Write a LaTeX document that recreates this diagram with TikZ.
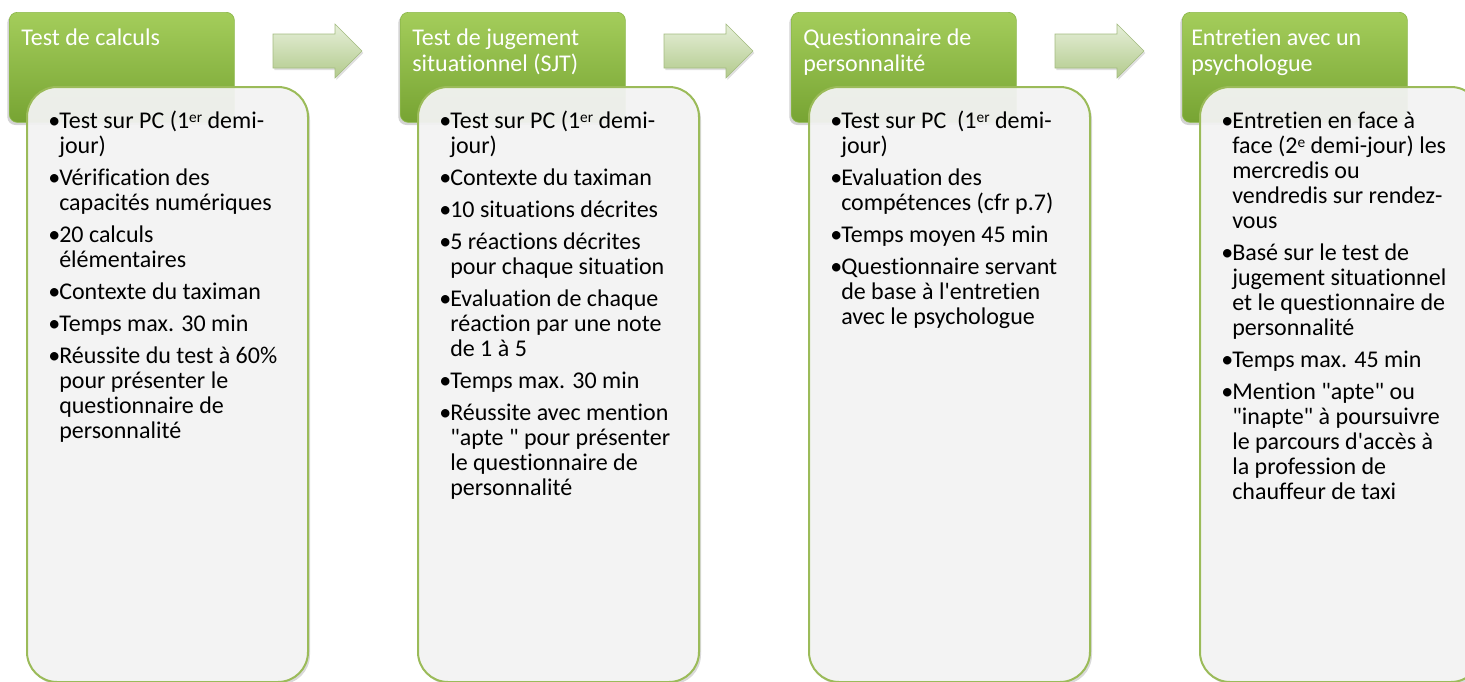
\documentclass[tikz,border=0pt]{standalone}
\usepackage{fontspec}
\setmainfont{Carlito}[Ligatures=NoCommon]
\usetikzlibrary{shadows}

\definecolor{vertclair}{HTML}{A4CD5B}
\definecolor{vertfonce}{HTML}{77A433}
\definecolor{vertbord}{HTML}{8CB84A}
\definecolor{vertligne}{HTML}{9BBB59}
\definecolor{gris}{HTML}{F5F5F5}
\definecolor{flecheclair}{HTML}{E6EFD9}
\definecolor{flechefonce}{HTML}{B2CA8C}
\definecolor{flechebord}{HTML}{A3BB80}

\newcommand{\titrefont}{\fontsize{18}{20}\selectfont}
\newcommand{\listefont}{\fontsize{18}{18.75}\selectfont}
\newcommand{\puce}{\makebox[8.25pt][l]{\textbullet}}
\newcommand{\expo}[1]{\raisebox{0.55ex}{\fontsize{11.5}{11.5}\selectfont #1}}
\newcommand{\dq}{\textquotedbl}
\newcommand{\sautpuce}{5.25pt}

\tikzset{
  entete/.style={anchor=north west, rounded corners=6pt,
    minimum width=168.75pt, minimum height=82.5pt,
    top color=vertclair, bottom color=vertfonce, draw=vertbord, line width=0.5pt,
    drop shadow={shadow xshift=-1.5pt, shadow yshift=-2pt, opacity=0.35}},
  corps/.style={anchor=north west, rounded corners=22.5pt,
    minimum width=210.75pt, minimum height=446.25pt,
    fill=gris, fill opacity=0.93, draw=vertligne, line width=1.5pt,
    drop shadow={shadow xshift=1.5pt, shadow yshift=-2pt, opacity=0.3}},
  titre/.style={anchor=north west, inner sep=0pt, text=white, font=\titrefont},
  liste/.style={anchor=north west, inner sep=0pt, font=\listefont},
  fleche/.style={top color=flecheclair, bottom color=flechefonce, draw=flechebord, line width=0.4pt,
    drop shadow={shadow xshift=1pt, shadow yshift=-1.5pt, opacity=0.25}}
}

\begin{document}
\begin{tikzpicture}[x=0.75pt,y=-0.75pt]

\useasboundingbox (0,0) rectangle (1465,682);

% fleches entre les etapes
\foreach \dx in {0,391,782}
  \path[fleche] (273+\dx,34) -- (335+\dx,34) -- (335+\dx,24) -- (362+\dx,51)
     -- (335+\dx,78) -- (335+\dx,68) -- (273+\dx,68) -- cycle;

% en-tetes
\node[entete] (h1) at (9,12) {};
\node[entete] (h2) at (400,12) {};
\node[entete] (h3) at (791,12) {};
\node[entete] (h4) at (1182,12) {};

% cadres
\node[corps] (c1) at (26,86) {};
\node[corps] (c2) at (417,86) {};
\node[corps] (c3) at (808,86) {};
\node[corps] (c4) at (1199,86) {};

% titres
\node[titre] (t1) at ([shift={(12,14.3)}]h1.north west)
  {\begin{tabular}{@{}l@{}}Test de calculs\end{tabular}};
\node[titre] (t2) at ([shift={(12,14.3)}]h2.north west)
  {\begin{tabular}{@{}l@{}}Test de jugement\\ situationnel (SJT)\end{tabular}};
\node[titre] (t3) at ([shift={(12,14.3)}]h3.north west)
  {\begin{tabular}{@{}l@{}}Questionnaire de\\ personnalité\end{tabular}};
\node[titre] (t4) at ([shift={(9,14.3)}]h4.north west)
  {\begin{tabular}{@{}l@{}}Entretien avec un\\ psychologue\end{tabular}};

% contenus
\node[liste] (l1) at ([shift={(22,24.5)}]c1.north west)
  {\begin{tabular}{@{}l@{}l@{}}
   \puce & Test sur PC (1\expo{er} demi-\\
         & jour)\\[\sautpuce]
   \puce & Vérification des\\
         & capacités numériques\\[\sautpuce]
   \puce & 20 calculs\\
         & élémentaires\\[\sautpuce]
   \puce & Contexte du taximan\\[\sautpuce]
   \puce & Temps max. 30 min\\[\sautpuce]
   \puce & Réussite du test à 60\%\\
         & pour présenter le\\
         & questionnaire de\\
         & personnalité
   \end{tabular}};

\node[liste] (l2) at ([shift={(22,24.5)}]c2.north west)
  {\begin{tabular}{@{}l@{}l@{}}
   \puce & Test sur PC (1\expo{er} demi-\\
         & jour)\\[\sautpuce]
   \puce & Contexte du taximan\\[\sautpuce]
   \puce & 10 situations décrites\\[\sautpuce]
   \puce & 5 réactions décrites\\
         & pour chaque situation\\[\sautpuce]
   \puce & Evaluation de chaque\\
         & réaction par une note\\
         & de 1 à 5\\[\sautpuce]
   \puce & Temps max. 30 min\\[\sautpuce]
   \puce & Réussite avec mention\\
         & \dq apte \dq\ pour présenter\\
         & le questionnaire de\\
         & personnalité
   \end{tabular}};

\node[liste] (l3) at ([shift={(22,24.5)}]c3.north west)
  {\begin{tabular}{@{}l@{}l@{}}
   \puce & Test sur PC\ \ (1\expo{er} demi-\\
         & jour)\\[\sautpuce]
   \puce & Evaluation des\\
         & compétences (cfr p.7)\\[\sautpuce]
   \puce & Temps moyen 45 min\\[\sautpuce]
   \puce & Questionnaire servant\\
         & de base à l\textquotesingle entretien\\
         & avec le psychologue
   \end{tabular}};

\node[liste] (l4) at ([shift={(22,24.5)}]c4.north west)
  {\begin{tabular}{@{}l@{}l@{}}
   \puce & Entretien en face à\\
         & face (2\expo{e} demi-jour) les\\
         & mercredis ou\\
         & vendredis sur rendez-\\
         & vous\\[\sautpuce]
   \puce & Basé sur le test de\\
         & jugement situationnel\\
         & et le questionnaire de\\
         & personnalité\\[\sautpuce]
   \puce & Temps max. 45 min\\[\sautpuce]
   \puce & Mention \dq apte\dq\ ou\\
         & \dq inapte\dq\ à poursuivre\\
         & le parcours d\textquotesingle accès à\\
         & la profession de\\
         & chauffeur de taxi
   \end{tabular}};

\end{tikzpicture}
\end{document}
